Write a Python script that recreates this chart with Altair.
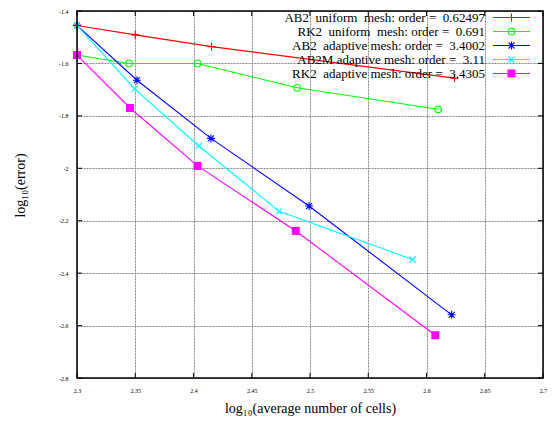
import altair as alt
import pandas as pd

# ---- data ----
ab2u_x = [2.3, 2.35, 2.4155, 2.624]
ab2u_y = [-1.455, -1.491, -1.536, -1.656]
rk2u_x = [2.3, 2.3446, 2.4035, 2.489, 2.610]
rk2u_y = [-1.568, -1.600, -1.600, -1.693, -1.775]
ab2a_x = [2.3, 2.3515, 2.415, 2.4992, 2.6216]
ab2a_y = [-1.455, -1.664, -1.886, -2.144, -2.559]
ab2m_x = [2.3, 2.3495, 2.4046, 2.4735, 2.588]
ab2m_y = [-1.455, -1.697, -1.915, -2.164, -2.348]
rk2a_x = [2.3, 2.3455, 2.4035, 2.4878, 2.6076]
rk2a_y = [-1.568, -1.770, -1.991, -2.239, -2.637]

NB = "\u00a0"
labels = [
    f"AB2 {NB}uniform {NB}mesh: order = {NB}0.62497",
    f"RK2 {NB}uniform {NB}mesh: order = {NB}0.691",
    f"AB2 {NB}adaptive mesh: order = {NB}3.4002",
    f"AB2M adaptive mesh: order = {NB}3.11",
    f"RK2 {NB}adaptive mesh: order = {NB}3.4305",
]
colors = ["#ff0000", "#00ff00", "#0000ff", "#00ffff", "#ff00ff"]

PLUS = "M-1,0L1,0M0,-1L0,1"
XMARK = "M-0.75,-0.75L0.75,0.75M-0.75,0.75L0.75,-0.75"
STAR = PLUS + XMARK
SQUARE = "M-1,-1L1,-1L1,1L-1,1Z"
shapes = [PLUS, "circle", STAR, XMARK, SQUARE]
filled = [False, False, False, False, True]
sizes = [64, 45, 64, 64, 64]

series = [(ab2u_x, ab2u_y), (rk2u_x, rk2u_y), (ab2a_x, ab2a_y),
          (ab2m_x, ab2m_y), (rk2a_x, rk2a_y)]

x_ticks = [2.3, 2.35, 2.4, 2.45, 2.5, 2.55, 2.6, 2.65, 2.7]
y_ticks = [-1.4, -1.6, -1.8, -2.0, -2.2, -2.4, -2.6, -2.8]

W, H = 466, 367
FONT = "Liberation Serif"

xscale = alt.Scale(domain=[2.3, 2.7], nice=False, zero=False)
yscale = alt.Scale(domain=[-2.8, -1.4], nice=False, zero=False)

GRID = dict(grid=True, gridDash=[2, 1], gridColor="#888", gridOpacity=1, gridWidth=1)
xaxis = alt.Axis(values=x_ticks, title="log\u2081\u2080(average number of cells)",
                 labelExpr="replace(format(datum.value, '.2~f'), '\u2212', '-')",
                 ticks=False, domain=False, labelFontSize=6, labelPadding=9,
                 labelFont=FONT, titleFont=FONT, titleFontSize=14,
                 titleFontWeight="normal", titleColor="black", labelColor="black",
                 titleY=30, titleBaseline="middle", labelFlush=False, **GRID)
yaxis = alt.Axis(values=y_ticks, title="log\u2081\u2080(error)",
                 labelExpr="replace(format(datum.value, '.1~f'), '\u2212', '-')",
                 ticks=False, domain=False, labelFontSize=6, labelPadding=9,
                 labelFont=FONT, titleFont=FONT, titleFontSize=14,
                 titleFontWeight="normal", titleColor="black", labelColor="black",
                 titleX=-57, titleY=174, titleAngle=-90, titleBaseline="middle",
                 labelFlush=False, **GRID)

layers = []
for i, (xs, ys) in enumerate(series):
    df = pd.DataFrame({"x": xs, "y": ys})
    if i == 0:
        enc_x = alt.X("x:Q", scale=xscale, axis=xaxis)
        enc_y = alt.Y("y:Q", scale=yscale, axis=yaxis)
    else:
        enc_x = alt.X("x:Q", scale=xscale)
        enc_y = alt.Y("y:Q", scale=yscale)
    line = alt.Chart(df).mark_line(color=colors[i], strokeWidth=1.1).encode(x=enc_x, y=enc_y)
    pts = alt.Chart(df).mark_point(shape=shapes[i], filled=filled[i], size=sizes[i],
                                   color=colors[i], strokeWidth=1.1, opacity=1).encode(
        x=alt.X("x:Q", scale=xscale), y=alt.Y("y:Q", scale=yscale))
    layers += [line, pts]

# inward ticks on all four sides (gnuplot style)
xt = pd.DataFrame({"x": x_ticks})
yt = pd.DataFrame({"y": y_ticks})
layers += [
    alt.Chart(xt).mark_rule(color="black", strokeWidth=1).encode(
        x=alt.X("x:Q", scale=xscale), y=alt.value(0), y2=alt.value(5)),
    alt.Chart(xt).mark_rule(color="black", strokeWidth=1).encode(
        x=alt.X("x:Q", scale=xscale), y=alt.value(H - 5), y2=alt.value(H)),
    alt.Chart(yt).mark_rule(color="black", strokeWidth=1).encode(
        y=alt.Y("y:Q", scale=yscale), x=alt.value(0), x2=alt.value(5)),
    alt.Chart(yt).mark_rule(color="black", strokeWidth=1).encode(
        y=alt.Y("y:Q", scale=yscale), x=alt.value(W - 5), x2=alt.value(W)),
]

# frame
layers.append(alt.Chart(pd.DataFrame({"a": [0]})).mark_rect(
    fill=None, stroke="black", strokeWidth=1.5).encode(
    x=alt.value(0), x2=alt.value(W), y=alt.value(0), y2=alt.value(H)))

# legend (gnuplot style: text right-aligned, sample on the right)
leg_y = [6.5, 20.5, 34.5, 48.5, 62.5]
for i, lab in enumerate(labels):
    ldf = pd.DataFrame({"t": [lab]})
    txt = alt.Chart(ldf).mark_text(align="right", baseline="middle", font=FONT,
                                   fontSize=13, color="black").encode(
        text="t:N", x=alt.value(408), y=alt.value(leg_y[i]))
    samp = alt.Chart(ldf).mark_rule(color=colors[i], strokeWidth=1.1).encode(
        x=alt.value(416), x2=alt.value(453), y=alt.value(leg_y[i]))
    mk = alt.Chart(ldf).mark_point(shape=shapes[i], filled=filled[i], size=sizes[i],
                                   color=colors[i], strokeWidth=1.1, opacity=1).encode(
        x=alt.value(434.5), y=alt.value(leg_y[i]))
    layers += [txt, samp, mk]

chart = alt.layer(*layers).properties(
    width=W, height=H,
    autosize=alt.AutoSizeParams(type="none"),
    padding={"left": 69, "top": 3, "right": 4, "bottom": 39},
).configure_view(stroke=None).configure(background="white")

chart.save("out.html", embed_options={"renderer": "svg", "actions": False})
